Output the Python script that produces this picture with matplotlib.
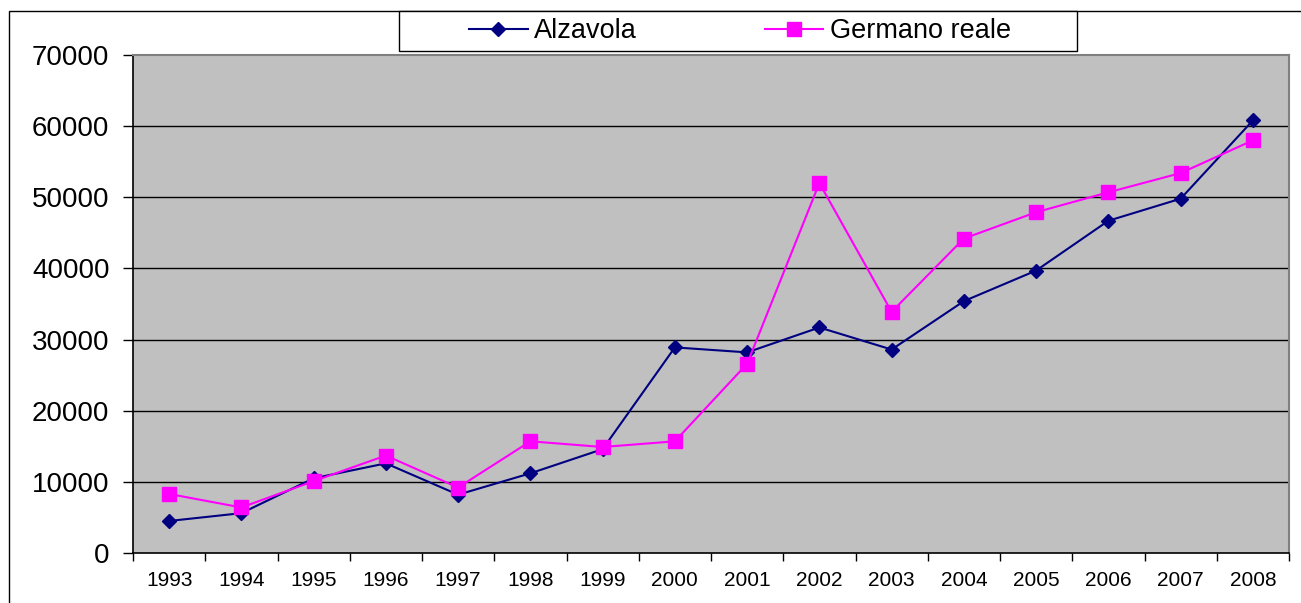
import matplotlib
matplotlib.use("Agg")
import matplotlib.pyplot as plt
import matplotlib.patches as patches
import numpy as np

years = ["1993", "1994", "1995", "1996", "1997", "1998", "1999", "2000",
         "2001", "2002", "2003", "2004", "2005", "2006", "2007", "2008"]
alzavola = [4500, 5600, 10500, 12600, 8200, 11200, 14600, 28900,
            28200, 31700, 28600, 35400, 39700, 46700, 49800, 60800]
germano = [8300, 6400, 10100, 13700, 9200, 15700, 14900, 15700,
           26600, 52000, 33900, 44200, 47900, 50700, 53400, 58000]
yticks = [0, 10000, 20000, 30000, 40000, 50000, 60000, 70000]

plt.rcParams['font.family'] = ['Liberation Sans', 'DejaVu Sans']

W, H = 1301, 603
fig = plt.figure(figsize=(W / 100, H / 100), dpi=100)
fig.patch.set_facecolor('white')

# outer chart border
fig.patches.append(patches.Rectangle((9 / W, -0.2), 1.5, 1 - 11 / H + 0.2,
                                     transform=fig.transFigure, fill=False,
                                     edgecolor='black', linewidth=1.0, zorder=0))
# legend frame
fig.patches.append(patches.Rectangle((399 / W, 1 - 51 / H), 678 / W, 40 / H,
                                     transform=fig.transFigure, facecolor='white',
                                     edgecolor='black', linewidth=1.0, zorder=1))

ax = fig.add_axes([133 / W, 50 / H, 1156 / W, 498 / H])
ax.set_facecolor('#C0C0C0')
x = np.arange(len(years))

ax.plot(x, alzavola, color='#000080', marker='D', markersize=7.0, linewidth=1.5,
        label='Alzavola', zorder=3)
ax.plot(x, germano, color='#FF00FF', marker='s', markersize=9.8, linewidth=1.5,
        label='Germano reale', zorder=3)

ax.set_xlim(-0.5, len(years) - 0.5)
ax.set_ylim(0, 70000)
ax.set_yticks(yticks)
ax.set_yticklabels([str(v) for v in yticks], fontsize=20)
for v in yticks[1:-1]:
    ax.axhline(v, color='black', linewidth=1.0, zorder=1)

ax.set_xticks(np.arange(-0.5, len(years)), labels=[''] * (len(years) + 1))
ax.set_xticks(x, minor=True)
ax.set_xticklabels(years, minor=True, fontsize=15)
ax.tick_params(axis='x', which='major', length=6, width=1, color='black', direction='out')
ax.tick_params(axis='x', which='minor', length=0, pad=13)
ax.tick_params(axis='y', length=7, width=1, direction='out', pad=10)

for s in ['left', 'bottom']:
    ax.spines[s].set_color('black')
    ax.spines[s].set_linewidth(1.2)
for s in ['top', 'right']:
    ax.spines[s].set_color('#808080')
    ax.spines[s].set_linewidth(1.5)

leg = fig.legend(loc='center', ncol=2,
                 bbox_to_anchor=(740 / W, 1 - 31 / H),
                 bbox_transform=fig.transFigure,
                 fontsize=19.5, frameon=False,
                 borderpad=0.0, handlelength=2.15, handletextpad=0.25,
                 columnspacing=4.7, borderaxespad=0)

fig.savefig('out.png', dpi=100)
